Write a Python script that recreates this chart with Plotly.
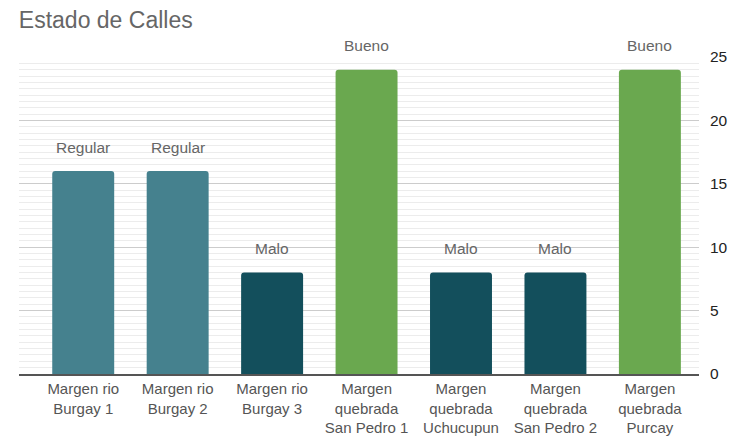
import plotly.graph_objects as go

categories = ["Margen rio<br>Burgay 1", "Margen rio<br>Burgay 2", "Margen rio<br>Burgay 3",
              "Margen<br>quebrada<br>San Pedro 1", "Margen<br>quebrada<br>Uchucupun",
              "Margen<br>quebrada<br>San Pedro 2", "Margen<br>quebrada<br>Purcay"]
values = [16, 16, 8, 24, 8, 8, 24]
status = ["Regular", "Regular", "Malo", "Bueno", "Malo", "Malo", "Bueno"]
status_colors = {"Regular": "#45818e", "Malo": "#134f5c", "Bueno": "#6aa84f"}
y_ticks = [0, 5, 10, 15, 20, 25]

FONT = "Liberation Sans, Arial"

fig = go.Figure()
fig.add_trace(go.Bar(
    x=list(range(len(categories))), y=values,
    marker=dict(color=[status_colors[s] for s in status], line=dict(width=0)),
    width=0.656, showlegend=False, hoverinfo="skip",
))
for i, (v, s) in enumerate(zip(values, status)):
    fig.add_annotation(x=i, y=v, text=s, showarrow=False, yshift=24,
                       font=dict(family=FONT, size=15.5, color="#666666"))

# page body has an 8px default margin, so the figure is kept inside the visible area
fig.update_layout(
    width=721, height=428,
    margin=dict(l=11, r=30, t=49, b=62),
    paper_bgcolor="white", plot_bgcolor="white",
    title=dict(text="Estado de Calles", x=0.015, xanchor="left",
               yref="container", y=1 - 4 / 428, yanchor="top",
               font=dict(family=FONT, size=23, color="#666666")),
    font=dict(family=FONT, color="#555555"),
    barcornerradius=3,
)
fig.update_xaxes(
    tickmode="array", tickvals=list(range(len(categories))), ticktext=categories,
    range=[-0.68, 6.52], showgrid=False, zeroline=False, automargin=False,
    showline=True, linecolor="#555555", linewidth=2,
    tickfont=dict(size=15, color="#555555"), ticks="",
)
fig.update_yaxes(
    side="right", range=[0, 25], tickvals=y_ticks, automargin=False,
    showgrid=True, gridcolor="#cccccc", gridwidth=1,
    minor=dict(dtick=0.5, showgrid=True, gridcolor="#ececec", gridwidth=1),
    zeroline=False, ticks="", ticklabelstandoff=10,
    tickfont=dict(size=15.5, color="#222222"),
)
fig.write_html("out.html")
